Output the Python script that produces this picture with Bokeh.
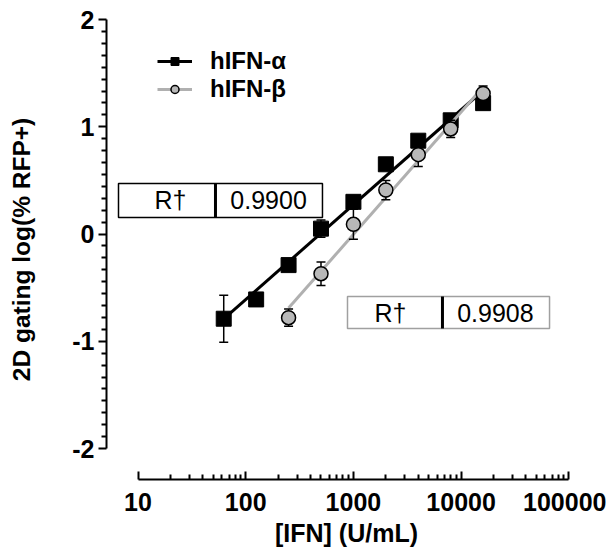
import numpy as np
from bokeh.plotting import figure
from bokeh.models import Range1d, FixedTicker, Legend, LegendItem
from bokeh.core.properties import value
from bokeh.embed import file_html
from bokeh.resources import INLINE

# ---- data ----
alpha_x = [62.5, 125, 250, 500, 1000, 2000, 4000, 8000, 16000]
alpha_y = [-0.79, -0.61, -0.29, 0.05, 0.30, 0.65, 0.87, 1.06, 1.22]
alpha_err = [0.22, 0.06, 0.03, 0.08, 0.03, 0.04, 0.03, 0.04, 0.03]

beta_x = [250, 500, 1000, 2000, 4000, 8000, 16000]
beta_y = [-0.78, -0.37, 0.09, 0.41, 0.74, 0.98, 1.31]
beta_err = [0.08, 0.11, 0.14, 0.09, 0.11, 0.08, 0.07]

x_ticks = [10, 100, 1000, 10000, 100000]
x_tick_labels = ["10", "100", "1000", "10000", "100000"]
y_ticks = [-2, -1, 0, 1, 2]
y_tick_labels = ["-2", "-1", "0", "1", "2"]

series_names = ["hIFN-\u03b1", "hIFN-\u03b2"]
r_label = "R\u2020"
r_alpha = "0.9900"
r_beta = "0.9908"

FONT = "Liberation Sans"

p = figure(width=606, height=553, x_axis_type="log",
           x_range=Range1d(10 ** 0.7075, 10 ** 5.164),
           y_range=Range1d(-2.289, 2.0),
           output_backend="svg", toolbar_location=None,
           min_border_left=106, min_border_right=20,
           min_border_top=19, min_border_bottom=74)
p.outline_line_color = None
p.xgrid.visible = False
p.ygrid.visible = False
p.background_fill_color = "white"
p.border_fill_color = "white"

# ---- axes ----
minor_x = [m * d for d in x_ticks[:-1] for m in range(2, 10)]
p.xaxis.ticker = FixedTicker(ticks=x_ticks, minor_ticks=minor_x)
p.xaxis.major_label_overrides = dict(zip(x_ticks, x_tick_labels))
p.xaxis.bounds = (x_ticks[0], x_ticks[-1])
p.xaxis.major_tick_in = 8
p.xaxis.major_tick_out = 0
p.xaxis.minor_tick_in = 5
p.xaxis.minor_tick_out = 0
p.xaxis.major_label_standoff = 13
p.xaxis.axis_label = "[IFN] (U/mL)"
p.xaxis.axis_label_standoff = 5

minor_y = [y_ticks[0] + k / 9 for k in range(0, 9 * (len(y_ticks) - 1) + 1) if k % 9 != 0]
p.yaxis.ticker = FixedTicker(ticks=y_ticks, minor_ticks=minor_y)
p.yaxis.major_label_overrides = dict(zip(y_ticks, y_tick_labels))
p.yaxis.bounds = (y_ticks[0], y_ticks[-1])
p.yaxis.major_tick_in = 0
p.yaxis.major_tick_out = 8
p.yaxis.minor_tick_in = 0
p.yaxis.minor_tick_out = 5
p.yaxis.major_label_standoff = 4
p.yaxis.axis_label = "2D gating log(% RFP+)"
p.yaxis.axis_label_standoff = 34

for ax in (p.xaxis, p.yaxis):
    ax.axis_line_width = 2
    ax.axis_line_color = "black"
    ax.major_tick_line_width = 2
    ax.minor_tick_line_width = 2
    ax.major_tick_line_color = "black"
    ax.minor_tick_line_color = "black"
    ax.major_label_text_font = FONT
    ax.major_label_text_font_style = "bold"
    ax.major_label_text_font_size = "25px"
    ax.major_label_text_color = "black"
    ax.axis_label_text_font = FONT
    ax.axis_label_text_font_style = "bold"
    ax.axis_label_text_color = "black"
p.xaxis.axis_label_text_font_size = "25px"
p.yaxis.axis_label_text_font_size = "24.5px"

# ---- fits ----
def fit_line(xs, ys):
    lx = np.log10(np.array(xs, dtype=float))
    m, b = np.polyfit(lx, np.array(ys, dtype=float), 1)
    xe = [min(xs), max(xs)]
    ye = [m * np.log10(v) + b for v in xe]
    return xe, ye

ax_e, ay_e = fit_line(alpha_x, alpha_y)
bx_e, by_e = fit_line(beta_x, beta_y)

a_lo = [y - e for y, e in zip(alpha_y, alpha_err)]
a_hi = [y + e for y, e in zip(alpha_y, alpha_err)]
b_lo = [y - e for y, e in zip(beta_y, beta_err)]
b_hi = [y + e for y, e in zip(beta_y, beta_err)]

GRAY_LINE = "#b0b0b0"
GRAY_FILL = "#b8b8b8"

# alpha series
a_line = p.line(ax_e, ay_e, line_color="black", line_width=3)
p.segment(alpha_x, a_lo, alpha_x, a_hi, line_color="black", line_width=1.5)
p.scatter(alpha_x, a_lo, marker="dash", size=9, line_color="black", line_width=1.5)
p.scatter(alpha_x, a_hi, marker="dash", size=9, line_color="black", line_width=1.5)
a_pts = p.scatter(alpha_x, alpha_y, marker="square", size=15,
                  fill_color="black", line_color="black")

# beta series
b_line = p.line(bx_e, by_e, line_color=GRAY_LINE, line_width=3)
p.segment(beta_x, b_lo, beta_x, b_hi, line_color="black", line_width=1.5)
p.scatter(beta_x, b_lo, marker="dash", size=9, line_color="black", line_width=1.5)
p.scatter(beta_x, b_hi, marker="dash", size=9, line_color="black", line_width=1.5)
b_pts = p.scatter(beta_x, beta_y, marker="circle", size=14,
                  fill_color=GRAY_FILL, line_color="black", line_width=1.5)

# ---- R boxes ----
def r_box(left, div, right, top, bottom, tx1, tx2, label, val, border):
    ymid = (top + bottom) / 2
    p.quad(left=[left], right=[right], top=[top], bottom=[bottom],
           fill_color="white", line_color=border, line_width=1.5)
    p.segment([div], [bottom], [div], [top], line_color="black", line_width=3)
    p.text([tx1], [ymid], text=[label], text_align="center", text_baseline="middle",
           text_font=value(FONT), text_font_size="25px", text_color="black")
    p.text([tx2], [ymid], text=[val], text_align="center", text_baseline="middle",
           text_font=value(FONT), text_font_size="25px", text_color="black")

r_box(6.59, 52.4, 516, 0.471, 0.154, 20.0, 163, r_label, r_alpha, "black")
r_box(881, 6710, 66200, -0.583, -0.881, 2210, 20800, r_label, r_beta, "#a0a0a0")

# ---- legend (one legend per row for exact placement) ----
def add_legend(name, rends, ypos):
    lg = Legend(items=[LegendItem(label=name, renderers=rends)],
                location=(51, ypos), padding=0, margin=0, spacing=0,
                glyph_width=35, glyph_height=20, label_height=20,
                label_standoff=18, border_line_color=None,
                background_fill_alpha=0,
                label_text_font=FONT, label_text_font_style="bold",
                label_text_font_size="24px", label_text_color="black")
    p.add_layout(lg)

add_legend(series_names[0], [a_line, a_pts], 404)
add_legend(series_names[1], [b_line, b_pts], 376)

open("out.html", "w").write(file_html(p, INLINE))
